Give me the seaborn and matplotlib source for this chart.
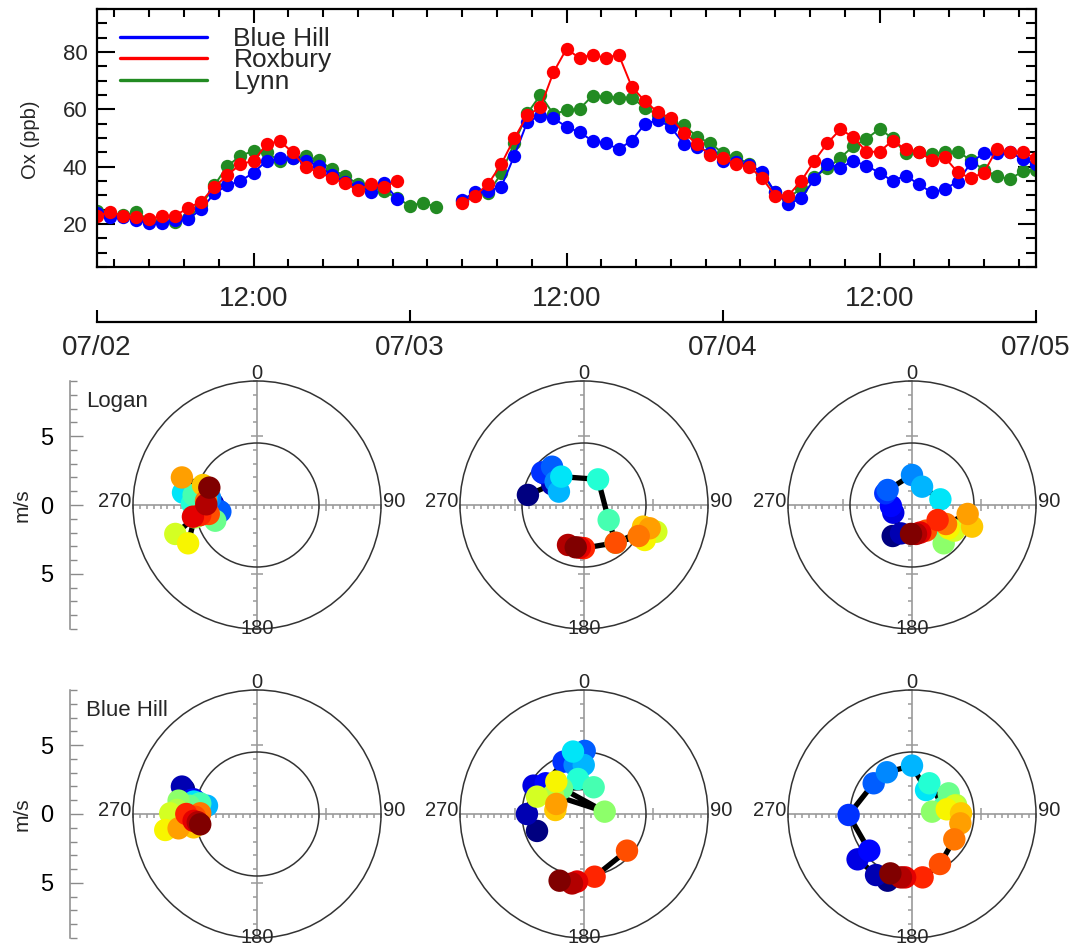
import numpy as np
import pandas as pd
import matplotlib
matplotlib.use("Agg")
import matplotlib.pyplot as plt
import seaborn as sns
from matplotlib.lines import Line2D
from matplotlib.patches import Circle
from matplotlib.ticker import FixedLocator, MultipleLocator

sns.set_style("white")
plt.rcParams["font.family"] = ["Liberation Sans", "DejaVu Sans"]

NaN = np.nan

# ---------------- top panel data (hourly, 07/02 00:00 -> 07/05 00:00) -------------
hours = list(range(73))
blue_hill_ox = [24.0, 22.3, 22.5, 21.4, 20.2, 20.2, 21.4, 21.7, 25.2, 30.7, 33.5, 35.0,
                37.9, 42.0, 42.9, 42.9, 42.1, 40.2, 37.1, 34.8, 33.0, 31.3, 34.4, 28.8,
                NaN, NaN, NaN, NaN, 28.4, 31.1, 31.6, 33.0, 43.8, 55.7, 57.7, 56.9,
                53.9, 52.0, 49.0, 48.2, 46.1, 49.1, 54.8, 56.3, 53.8, 47.9, 46.8, 44.9,
                42.0, 41.5, 40.5, 38.3, 31.0, 26.9, 29.0, 35.7, 40.8, 39.7, 42.0, 40.3,
                37.9, 35.0, 36.9, 33.9, 31.0, 32.2, 34.8, 41.2, 44.9, 44.7, 45.0, 42.6,
                40.8]
roxbury_ox = [22.9, 24.1, 22.9, 22.3, 21.7, 22.9, 22.9, 25.7, 27.8, 33.0, 37.0, 40.9,
              42.0, 47.8, 49.0, 45.0, 39.9, 38.0, 36.1, 34.2, 31.9, 33.9, 33.0, 35.0,
              NaN, NaN, NaN, NaN, 27.2, 29.9, 34.0, 40.9, 49.9, 57.9, 60.7, 72.9,
              81.1, 77.9, 79.1, 77.9, 79.1, 67.9, 62.9, 59.0, 56.9, 51.9, 47.9, 44.1,
              43.0, 40.8, 40.0, 36.0, 29.9, 29.9, 35.0, 42.0, 48.2, 53.0, 50.3, 45.2,
              45.2, 49.1, 46.1, 45.2, 42.3, 43.3, 38.0, 36.0, 37.9, 46.1, 45.0, 45.0,
              42.9]
lynn_ox = [24.5, 23.5, 23.0, 24.1, 21.5, 21.0, 20.6, 22.0, 26.5, 33.5, 40.2, 43.8,
           45.5, 45.0, 42.0, 43.0, 43.7, 42.3, 39.1, 36.8, 34.0, 33.0, 31.5, 29.0,
           26.4, 27.4, 26.0, NaN, 28.0, 30.0, 30.7, 37.7, 48.2, 58.6, 65.0, 58.3,
           59.7, 60.1, 64.8, 64.4, 64.1, 64.1, 60.6, 58.0, 55.7, 54.4, 50.5, 48.2,
           44.7, 43.3, 41.0, 37.5, 31.0, 29.0, 32.5, 36.5, 39.4, 43.1, 47.2, 49.7,
           53.2, 49.9, 44.7, 45.0, 44.4, 45.2, 45.2, 42.3, 38.8, 36.8, 35.6, 38.5,
           39.0]
site_names = ["Blue Hill", "Roxbury", "Lynn"]
site_colors = ["#0000ff", "#ff0000", "#228b22"]

ox_ticks = [20, 40, 60, 80]
time_major_ticks = [12, 36, 60]
time_major_labels = ["12:00", "12:00", "12:00"]
date_ticks = [0, 24, 48, 72]
date_labels = ["07/02", "07/03", "07/04", "07/05"]

# ---------------- hodograph data (hourly wind vectors, m/s) ----------------------
logan_day1_u = [-3.3, -3.2, -3.0, -2.9, -2.8, -2.66, -3.4, -3.63, -5.37, -4.72, -4.6, -3.03,
                -4.3, -4.5, -5.93, -5.0, -3.92, -5.45, -3.7, -3.5, -4.12, -4.65, -3.68, -3.46]
logan_day1_v = [-0.2, 0.1, -0.3, -0.5, -0.4, -0.48, 0.5, 0.6, 0.9, 0.12, 0.73, -1.14,
                -0.8, -0.9, -2.1, -2.78, 1.45, 2.0, 0.3, -0.65, -0.73, -0.85, 0.05, 1.26]
logan_day2_u = [-4.07, -2.3, -2.9, -2.4, -3.03, -2.32, -2.06, -1.82, -1.65, 1.02, 1.79, 2.3,
                4.2, 4.4, 5.25, 4.41, 4.29, 4.77, 3.97, 2.3, 0.0, -0.3, -1.16, -0.6]
logan_day2_v = [0.73, 1.5, 2.3, 2.6, 2.37, 2.78, 1.69, 0.97, 2.06, 1.86, -1.09, -2.74,
                -1.9, -2.3, -1.94, -2.54, -1.57, -1.69, -2.25, -2.74, -3.13, -3.1, -2.9, -3.07]
logan_day3_u = [-1.4, -0.8, -1.36, -1.53, -1.94, -1.77, 0.0, 0.73, 2.06, 2.0, 2.2, 2.9,
                2.3, 2.9, 3.07, 2.66, 4.36, 4.04, 2.47, 1.02, 1.86, 0.6, 0.29, -0.07]
logan_day3_v = [-2.25, -2.06, -0.56, -0.07, 0.85, 1.09, 2.18, 1.33, 0.41, -1.3, -1.6, -1.8,
                -2.78, -1.75, -1.86, -1.69, -1.57, -0.65, -1.38, -1.86, -1.09, -2.0, -2.1, -2.1]
bluehill_day1_u = [-5.3, -5.45, -4.6, -4.8, -4.4, -4.3, -4.5, -3.63, -4.6, -4.3, -4.12, -4.9,
                   -5.69, -5.8, -6.3, -6.66, -4.6, -5.69, -4.12, -4.5, -5.13, -4.6, -4.3, -4.12]
bluehill_day1_v = [1.8, 1.99, 1.07, 1.0, 0.9, 0.8, 0.85, 0.6, 0.9, 0.7, 0.77, 0.6,
                   0.97, 0.3, 0.05, -1.16, -0.97, -1.04, 0.05, -0.2, 0.0, -0.5, -0.6, -0.75]
bluehill_day2_u = [-3.41, -4.14, -3.66, -2.78, -1.48, 0.05, -0.68, -0.02, -0.8, -0.44, 0.7, -1.6,
                   1.5, -2.25, -3.41, -2.01, -2.08, -2.01, NaN, 3.12, 0.77, -0.5, -0.87, -1.77]
bluehill_day2_v = [-1.23, 0.0, 2.06, 2.23, 3.8, 4.58, 3.56, 3.56, 4.53, 2.54, 1.94, 1.86,
                   0.17, 1.38, 1.26, 2.35, 0.29, 0.73, NaN, -2.66, -4.55, -4.9, -5.04, -4.84]
bluehill_day3_u = [-1.77, -2.61, -3.95, -3.1, -4.6, -2.78, -1.82, 0.0, 1.02, 1.26, 2.3, 2.66,
                   1.45, 3.2, 3.07, 2.52, 3.56, 3.51, 3.07, 2.03, 0.77, -0.5, -0.8, -1.57]
bluehill_day3_v = [-4.84, -4.43, -3.29, -2.66, -0.07, 2.23, 3.03, 3.51, 1.74, 2.23, 0.5, 1.5,
                   0.17, 0.65, 0.6, 0.34, 0.05, -0.68, -1.84, -3.63, -4.6, -4.6, -4.6, -4.31]
hod_hours = list(range(24))
ring_radii = [4.5, 9.0]
dir_labels = ["0", "90", "180", "270"]
ms_ticks = [-5, 0, 5]
ms_labels = ["5", "0", "5"]
row_names = ["Logan", "Blue Hill"]

# ---------------- figure ----------------------------------------------------------
W, H = 1085, 949
fig = plt.figure(figsize=(W / 100, H / 100), dpi=100)


def frac(x0, y0, x1, y1):
    return [x0 / W, 1 - y1 / H, (x1 - x0) / W, (y1 - y0) / H]


def with_segments(x, y, xname, yname):
    yy = np.asarray(y, dtype=float)
    seg = np.cumsum(np.isnan(yy))
    df = pd.DataFrame({xname: x, yname: yy, "seg": seg})
    return df.dropna()


# ---- top time series ----
ax = fig.add_axes(frac(97, 9, 1036, 267))
series = {"Blue Hill": blue_hill_ox, "Roxbury": roxbury_ox, "Lynn": lynn_ox}
color_of = dict(zip(site_names, site_colors))
for name in ["Lynn", "Blue Hill", "Roxbury"]:
    d = with_segments(hours, series[name], "hour", "ox")
    sns.lineplot(data=d, x="hour", y="ox", units="seg", estimator=None, sort=False,
                 color=color_of[name], linewidth=1.4, marker="o", markersize=9.6,
                 markeredgewidth=0, ax=ax, legend=False)
ax.set_xlim(0, 72)
ax.set_ylim(5, 95)
ax.set_xlabel("")
ax.set_ylabel("")
ax.yaxis.set_major_locator(FixedLocator(ox_ticks))
ax.yaxis.set_minor_locator(MultipleLocator(5))
ax.xaxis.set_major_locator(FixedLocator(time_major_ticks))
ax.set_xticklabels(time_major_labels)
minor_t = [t for t in np.arange(12 - 8 / 3 * 5, 73, 8 / 3) if 0 < t < 72]
ax.xaxis.set_minor_locator(FixedLocator(minor_t))
for s in ax.spines.values():
    s.set_color("black")
    s.set_linewidth(1.6)
ax.tick_params(which="both", direction="in", bottom=True, top=True, left=True, right=True,
               color="black", width=1.5)
ax.tick_params(axis="y", which="major", length=13, labelsize=16, pad=7)
ax.tick_params(axis="y", which="minor", length=7)
ax.tick_params(axis="x", which="major", length=10, labelsize=20, pad=14)
ax.tick_params(axis="x", which="minor", length=6)
handles = [Line2D([], [], color=c, lw=2.4) for c in site_colors]
ax.legend(handles, site_names, loc="upper left", bbox_to_anchor=(0.0245, 0.93),
          frameon=False, fontsize=19, handlelength=3.3, handletextpad=1.0,
          labelspacing=-0.1, borderpad=0, borderaxespad=0)
fig.text(30 / W, 1 - 140 / H, "Ox (ppb)", rotation=90, ha="center", va="center", fontsize=14.5)

# ---- date axis ----
axd = fig.add_axes(frac(97, 300, 1036, 322))
axd.set_facecolor("none")
axd.set_xlim(0, 72)
for k in ["left", "right", "top"]:
    axd.spines[k].set_visible(False)
axd.spines["bottom"].set_color("black")
axd.spines["bottom"].set_linewidth(1.6)
axd.set_yticks([])
axd.set_xticks(date_ticks)
axd.set_xticklabels(date_labels)
axd.tick_params(axis="x", direction="in", bottom=True, length=9, width=1.5, labelsize=20,
                pad=9, color="black")

# ---- hodographs ----
jet = matplotlib.colormaps["jet"]
panels = [
    (logan_day1_u, logan_day1_v), (logan_day2_u, logan_day2_v), (logan_day3_u, logan_day3_v),
    (bluehill_day1_u, bluehill_day1_v), (bluehill_day2_u, bluehill_day2_v),
    (bluehill_day3_u, bluehill_day3_v),
]
centers = [(257, 505), (584, 505), (912, 505), (257, 814), (584, 814), (912, 814)]
RP = 124
for i, ((cx, cy), (u, v)) in enumerate(zip(centers, panels)):
    axp = fig.add_axes(frac(cx - RP, cy - RP, cx + RP, cy + RP))
    axp.set_facecolor("none")
    for r in ring_radii:
        axp.add_patch(Circle((0, 0), r, fill=False, ec="#333333", lw=1.1, clip_on=False, zorder=1))
    d = pd.DataFrame({"hour": hod_hours, "u": u, "v": np.asarray(v, dtype=float)})
    d["seg"] = np.cumsum(d["u"].isna())
    d = d.dropna()
    sns.lineplot(data=d, x="u", y="v", units="seg", estimator=None, sort=False, color="black",
                 linewidth=3.8, ax=axp, legend=False, zorder=2)
    sns.scatterplot(data=d, x="u", y="v", hue="hour", palette=jet, hue_norm=(0, 23), s=260,
                    linewidth=0, legend=False, ax=axp, zorder=3)
    axp.set_xlim(-9, 9)
    axp.set_ylim(-9, 9)
    axp.set_xlabel("")
    axp.set_ylabel("")
    axp.spines["top"].set_visible(False)
    axp.spines["right"].set_visible(False)
    axp.spines["left"].set_position(("data", 0))
    axp.spines["bottom"].set_position(("data", 0))
    for k in ["left", "bottom"]:
        axp.spines[k].set_color("#9a9a9a")
        axp.spines[k].set_linewidth(1.2)
        axp.spines[k].set_zorder(0.5)
    axp.xaxis.set_major_locator(FixedLocator([-5, 5]))
    axp.xaxis.set_minor_locator(MultipleLocator(0.5))
    axp.yaxis.set_major_locator(FixedLocator([-5, 5]))
    axp.yaxis.set_minor_locator(MultipleLocator(1))
    axp.tick_params(which="both", bottom=True, left=True, color="#9a9a9a",
                    width=1.1, labelbottom=False, labelleft=False)
    axp.tick_params(which="major", direction="inout", length=8)
    axp.tick_params(which="minor", direction="out", length=3)
    axp.text(0, 9.55, dir_labels[0], ha="center", va="center", fontsize=14.5, clip_on=False)
    axp.text(9.15, 0.25, dir_labels[1], ha="left", va="center", fontsize=14.5, clip_on=False)
    axp.text(0, -8.95, dir_labels[2], ha="center", va="center", fontsize=14.5, clip_on=False)
    axp.text(-9.15, 0.25, dir_labels[3], ha="right", va="center", fontsize=14.5, clip_on=False)

    if i % 3 == 0:
        axm = fig.add_axes(frac(70, cy - RP, 71, cy + RP))
        axm.set_facecolor("none")
        axm.set_ylim(-9, 9)
        axm.set_xlim(0, 1)
        for k in ["right", "top", "bottom"]:
            axm.spines[k].set_visible(False)
        axm.spines["left"].set_color("#8a8a8a")
        axm.spines["left"].set_linewidth(1.1)
        axm.set_xticks([])
        axm.yaxis.set_major_locator(FixedLocator(ms_ticks))
        axm.set_yticklabels(ms_labels)
        axm.yaxis.set_minor_locator(MultipleLocator(1))
        axm.tick_params(axis="y", which="both", direction="in", left=True, color="#8a8a8a",
                        width=1.0, labelsize=17, pad=12, labelcolor="black")
        axm.tick_params(axis="y", which="major", length=9)
        axm.tick_params(axis="y", which="minor", length=5)
        fig.text(22 / W, 1 - cy / H, "m/s", rotation=90, ha="center", va="center", fontsize=15)
        fig.text(86 / W, 1 - (cy - 98) / H, row_names[i // 3], ha="left", va="baseline",
                 fontsize=16)

fig.savefig("out.png", dpi=100)
